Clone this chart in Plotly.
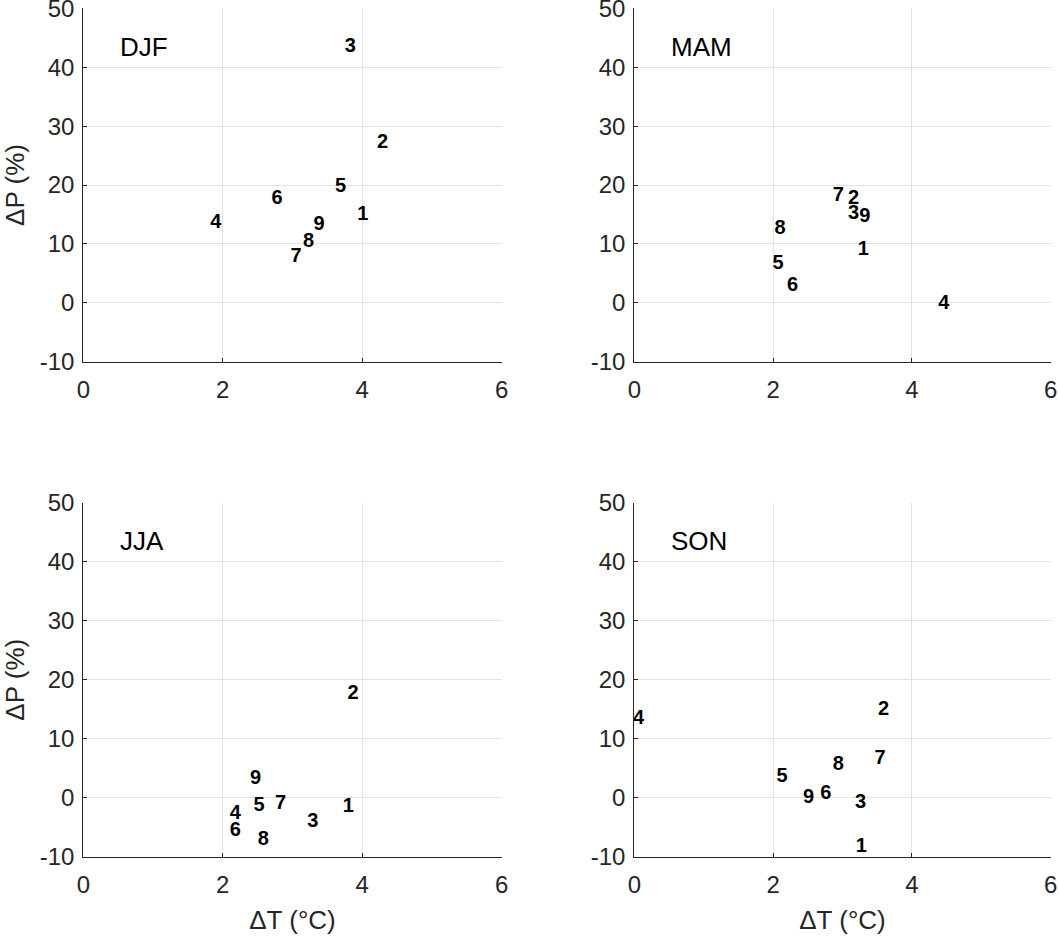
import plotly.graph_objects as go

seasons = ["DJF", "MAM", "JJA", "SON"]
model_labels = ["1", "2", "3", "4", "5", "6", "7", "8", "9"]

dT_DJF = [4.01, 4.29, 3.83, 1.90, 3.69, 2.78, 3.05, 3.23, 3.38]
dP_DJF = [14.9, 27.2, 43.5, 13.5, 19.7, 17.7, 7.7, 10.3, 13.2]

dT_MAM = [3.30, 3.16, 3.16, 4.46, 2.07, 2.28, 2.94, 2.10, 3.32]
dP_MAM = [9.0, 17.7, 15.0, -0.2, 6.6, 2.8, 18.1, 12.5, 14.5]

dT_JJA = [3.80, 3.87, 3.29, 2.18, 2.52, 2.18, 2.83, 2.58, 2.47]
dP_JJA = [-1.6, 17.6, -4.2, -2.7, -1.4, -5.6, -1.1, -7.2, 3.2]

dT_SON = [3.27, 3.59, 3.26, 0.06, 2.13, 2.76, 3.54, 2.94, 2.51]
dP_SON = [-8.4, 14.9, -0.9, 13.4, 3.5, 0.6, 6.6, 5.6, 0.0]

x_ticks = [0, 2, 4, 6]
x_ticktext = ["0", "2", "4", "6"]
y_ticks = [-10, 0, 10, 20, 30, 40, 50]
y_ticktext = ["-10", "0", "10", "20", "30", "40", "50"]

dT = [dT_DJF, dT_MAM, dT_JJA, dT_SON]
dP = [dP_DJF, dP_MAM, dP_JJA, dP_SON]

FONT = "Liberation Sans, Arial, Helvetica, sans-serif"
INK = "#262626"
W, H = 1059, 939

# panel domains (paper fractions)
xdoms = [[83.3 / W, 501.7 / W], [634.3 / W, 1050.7 / W]]
ydoms = [[(H - 361.7) / H, (H - 8.3) / H], [(H - 856.7) / H, (H - 502.7) / H]]

fig = go.Figure()
layout = dict(
    width=W, height=H,
    margin=dict(l=0, r=0, t=0, b=0),
    paper_bgcolor="white", plot_bgcolor="white",
    showlegend=False,
    font=dict(family=FONT, color=INK, size=24),
)

annotations = []
for i, s in enumerate(seasons):
    row, col = divmod(i, 2)
    n = i + 1
    xa = "x" if n == 1 else f"x{n}"
    ya = "y" if n == 1 else f"y{n}"
    xkey = "xaxis" if n == 1 else f"xaxis{n}"
    ykey = "yaxis" if n == 1 else f"yaxis{n}"
    fig.add_trace(go.Scatter(
        x=dT[i], y=dP[i], text=model_labels, mode="text",
        textposition="middle center",
        textfont=dict(family=FONT, size=20, color="black", weight="bold"),
        cliponaxis=False, xaxis=xa, yaxis=ya, hoverinfo="skip",
    ))
    layout[xkey] = dict(
        domain=xdoms[col], anchor=ya, range=[0, 6],
        tickmode="array", tickvals=x_ticks, ticktext=x_ticktext,
        showgrid=True, gridcolor="#e3e3e3", gridwidth=1, zeroline=False,
        showline=True, linecolor=INK, linewidth=1.3,
        ticks="inside", ticklen=4, tickcolor=INK, tickwidth=1,
        tickfont=dict(size=24, color=INK, family=FONT),
        ticklabeloverflow="allow", ticklabelstandoff=6,
        title=dict(text="ΔT (°C)" if row == 1 else "", font=dict(size=26, color=INK, family=FONT), standoff=14),
        automargin=False, fixedrange=True,
    )
    layout[ykey] = dict(
        domain=ydoms[row], anchor=xa, range=[-10, 50],
        tickmode="array", tickvals=y_ticks, ticktext=y_ticktext,
        showgrid=True, gridcolor="#e3e3e3", gridwidth=1, zeroline=False,
        showline=True, linecolor=INK, linewidth=1.3,
        ticks="inside", ticklen=4, tickcolor=INK, tickwidth=1,
        tickfont=dict(size=24, color=INK, family=FONT),
        ticklabeloverflow="allow", ticklabelstandoff=3,
        title=dict(text="ΔP (%)" if col == 0 else "", font=dict(size=26, color=INK, family=FONT), standoff=9),
        automargin=False, fixedrange=True,
    )
    annotations.append(dict(
        x=0.5, y=43.5, xref=xa, yref=ya, text=s, showarrow=False,
        xanchor="left", yanchor="middle",
        font=dict(family=FONT, size=26, color="black"),
    ))

layout["annotations"] = annotations
fig.update_layout(**layout)
fig.write_html(
    "out.html",
    config={"displayModeBar": False},
    post_script="document.body.style.margin='0';document.body.style.padding='0';",
)
